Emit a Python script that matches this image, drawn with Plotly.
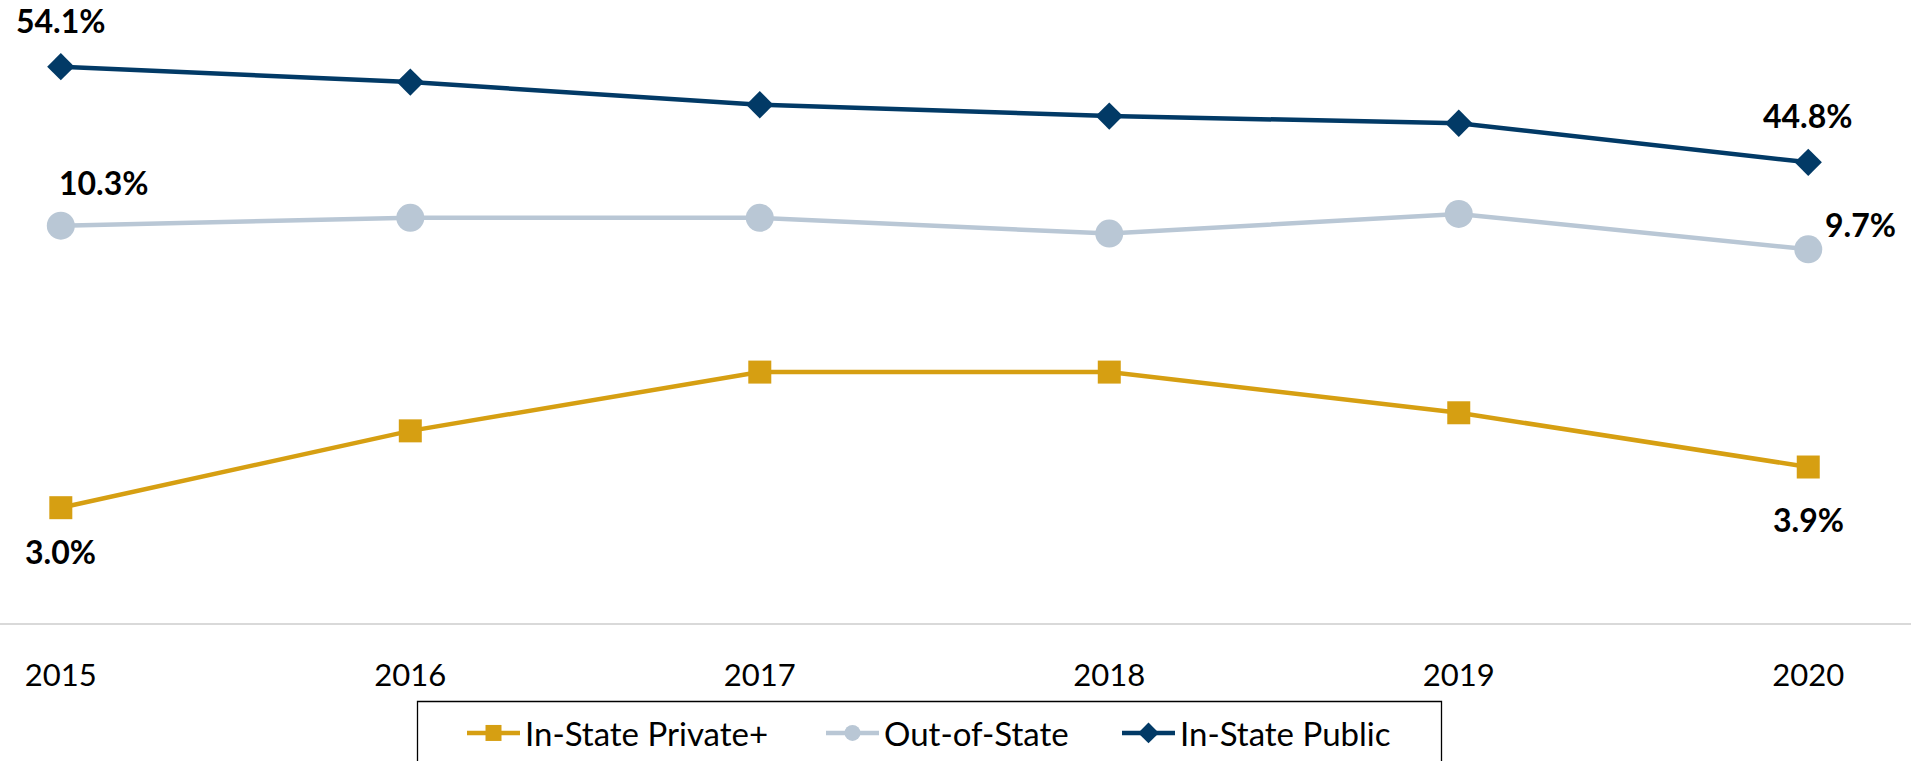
import plotly.graph_objects as go

years = [2015, 2016, 2017, 2018, 2019, 2020]
in_state_private = [3.0, 4.7, 6.0, 6.0, 5.1, 3.9]
out_of_state = [10.3, 10.5, 10.5, 10.1, 10.6, 9.7]
in_state_public = [54.1, 52.6, 50.4, 49.3, 48.6, 44.8]

series_names = ["In-State Private+", "Out-of-State", "In-State Public"]
colors = ["#d69f12", "#b9c7d5", "#023a66"]

FONT = "Lato"
W, H = 1911, 761
PLOT_BOTTOM = 623  # px from top where the x axis line sits

def px_x(p):
    return p / W

def px_y(p):
    return (PLOT_BOTTOM - p) / PLOT_BOTTOM

fig = go.Figure()
fig.add_trace(go.Scatter(
    x=years, y=in_state_private, name=series_names[0], yaxis="y2",
    mode="lines+markers", line=dict(color=colors[0], width=4.5),
    marker=dict(symbol="square", size=23, color=colors[0]),
    legendwidth=291))
fig.add_trace(go.Scatter(
    x=years, y=out_of_state, name=series_names[1], yaxis="y",
    mode="lines+markers", line=dict(color=colors[1], width=4.5),
    marker=dict(symbol="circle", size=28, color=colors[1]),
    legendwidth=228))
fig.add_trace(go.Scatter(
    x=years, y=in_state_public, name=series_names[2], yaxis="y3",
    mode="lines+markers", line=dict(color=colors[2], width=4.5),
    marker=dict(symbol="diamond", size=21, color=colors[2]),
    legendwidth=230))

# data labels on first and last points
label_specs = [
    (in_state_private, "y2", [(0, 0, -44), (-1, 0, -52)]),
    (out_of_state, "y", [(0, 43, 43), (-1, 52, 25)]),
    (in_state_public, "y3", [(0, 0, 46), (-1, 0, 47)]),
]
annotations = []
for vals, yref, specs in label_specs:
    for idx, xs, ys in specs:
        annotations.append(dict(
            x=years[idx], y=vals[idx], xref="x", yref=yref,
            text=f"<b>{vals[idx]:.1f}%</b>", showarrow=False,
            xshift=xs, yshift=ys,
            font=dict(family=FONT, size=32, color="#000000")))

legend_box = dict(type="rect", xref="paper", yref="paper",
                  x0=px_x(417.5), x1=px_x(1441.5),
                  y0=px_y(780), y1=px_y(701.5),
                  line=dict(color="#000000", width=1.3),
                  fillcolor="rgba(0,0,0,0)", layer="above")

fig.update_layout(
    width=W, height=H,
    margin=dict(l=0, r=0, t=0, b=H - PLOT_BOTTOM, autoexpand=False),
    paper_bgcolor="white", plot_bgcolor="white",
    font=dict(family=FONT, color="#000000"),
    xaxis=dict(range=[2014.826, 2020.294], tickvals=years,
               ticktext=[str(y) for y in years],
               showgrid=False, zeroline=False, showline=True,
               linecolor="#d9d9d9", linewidth=2, ticks="",
               ticklabelstandoff=24,
               tickfont=dict(family=FONT, size=31, color="#000000")),
    yaxis=dict(range=[0.199, 16.039], visible=False),
    yaxis2=dict(range=[0.449, 14.232], overlaying="y", visible=False),
    yaxis3=dict(range=[-0.01, 60.588], overlaying="y", visible=False),
    showlegend=True,
    legend=dict(orientation="h", x=px_x(462), xanchor="left",
                y=px_y(705), yanchor="top",
                borderwidth=0, bgcolor="rgba(0,0,0,0)",
                font=dict(family=FONT, size=33, color="#000000"),
                itemwidth=53, traceorder="normal"),
    annotations=annotations,
    shapes=[legend_box],
)

fig.write_html("out.html", config={"displayModeBar": False},
               post_script="document.body.style.margin='0';")
